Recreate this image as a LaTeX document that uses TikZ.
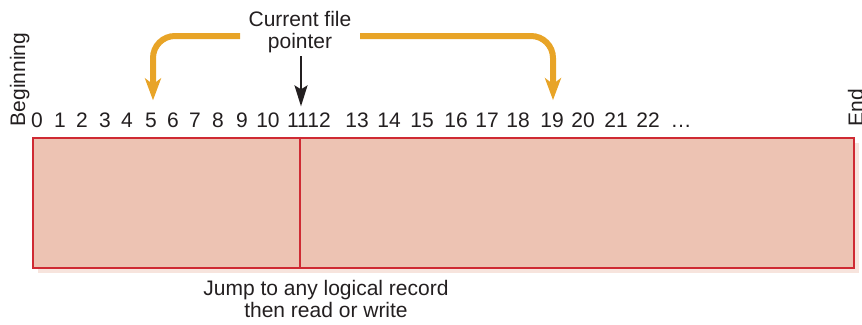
\documentclass[tikz,border=0pt]{standalone}
\usepackage{fontspec}
\setmainfont{Liberation Sans}
\usetikzlibrary{arrows.meta}
\definecolor{fileorange}{HTML}{E8A427}
\definecolor{filefill}{HTML}{EDC3B3}
\definecolor{fileborder}{HTML}{CF2A33}
\definecolor{fileshadow}{HTML}{F7E4DD}
\definecolor{txt}{HTML}{231F20}
\begin{document}
\begin{tikzpicture}[x=1pt,y=-1pt,
  txtfont/.style={font=\fontsize{21}{22}\selectfont, text=txt},
  digit/.style={txtfont, inner sep=0pt, anchor=base},
  label/.style={txtfont, inner sep=0pt, align=center},
  jumparrow/.style={draw=fileorange, line width=6pt, rounded corners=22pt,
     -{Stealth[length=22pt, width=16pt, inset=6pt]}},
  ptrarrow/.style={draw=txt, line width=2pt, -{Stealth[length=21pt, width=13pt, inset=4pt]}},
  filebox/.style={draw=fileborder, fill=filefill, line width=2.2pt, inner sep=0pt,
     minimum width=821pt, minimum height=130pt},
  ]
\useasboundingbox (0,0) rectangle (862,324);

% shadow and file box
\fill[fileshadow] (38,143) rectangle (859,273);
\node[filebox] (file) at (443.5,203) {};

% digits
\foreach \n/\x in {0/37,1/60,2/82,3/105,4/127,5/151,6/173,7/195,8/218,9/242,
   10/268,11/298,12/319,13/357,14/389,15/422,16/456,17/487,18/518,19/552,
   20/583,21/616,22/648}
  \node[digit] (n\n) at (\x,127) {\n};
\node[digit] (ndots) at (681,127) {\dots};

% divider under record 11
\draw[fileborder, line width=2.2pt] (file.north -| n11) ++(2pt,0) -- ([xshift=2pt]file.south -| n11);

% side labels
\node[txtfont, rotate=90, anchor=base west, inner sep=0pt] (beg) at (25,126.5) {Beginning};
\node[txtfont, rotate=90, anchor=base west, inner sep=0pt] (end) at (863,126.5) {End};

% texts
\node[label, anchor=north] (cfp) at (300,11.5) {Current file\\pointer};
\node[label, anchor=north] (jump) at (326,280.5) {Jump to any logical record\\then read or write};

% arrows
\coordinate (ls) at (240,36);
\coordinate (rs) at (360,36);
\draw[jumparrow, shorten >=12pt] (ls) -| ([xshift=2pt]n5.north);
\draw[jumparrow, shorten >=12pt] (rs) -| ([xshift=1pt]n19.north);
\draw[ptrarrow, shorten <=3pt, shorten >=6pt] (cfp.south -| n11) ++(3pt,0) -- ([xshift=3pt]n11.north);
\end{tikzpicture}
\end{document}
